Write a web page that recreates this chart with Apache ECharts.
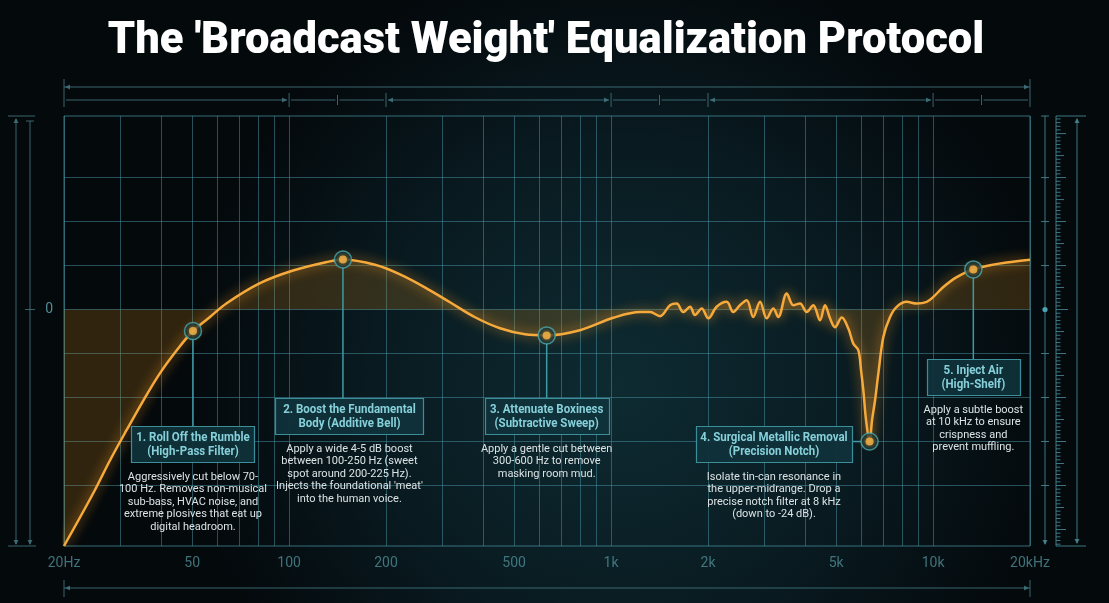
<!DOCTYPE html>
<html><head><meta charset="utf-8">
<script src="https://cdn.jsdelivr.net/npm/echarts@6/dist/echarts.min.js"></script>
<style>html,body{margin:0;padding:0;background:#060d11;}#c{width:1109px;height:603px;}</style>
</head><body><div id="c"></div>
<script>
// ---------------- DATA ----------------
const chartTitle = "The 'Broadcast Weight' Equalization Protocol";
const freqHz = [20,24.6,27.8,31.3,35.3,39.7,44.8,50.3,56.8,64,81.2,102.9,131,147,186,221,264,316,378,452,540,631,800,1016,1230,1321,1419,1524,1599,1676,1759,1822,1912,2004,2128,2286,2396,2514,2638,2764,2902,3044,3190,3306,3512,3682,3862,4050,4246,4454,4618,4786,4960,5204,5456,5654,5860,5974,6074,6192,6350,6464,6604,6762,7008,7352,7710,8282,8896,9556,10020,10762,11842,13336,15024,16930,20000];
const gainDb = [-43,-33.5,-27.4,-21.9,-16.5,-11.6,-7.4,-3.9,-1.35,1.15,4.8,7.1,8.65,9.1,8.1,6.4,4.05,1.33,-1.4,-3.4,-4.5,-4.7,-3.75,-1.5,-0.45,-0.45,-1.2,0.8,1.1,-0.45,0.5,-1.0,0.2,-1.6,0.5,1.4,-0.45,0.8,1.7,-1.35,1.4,-1.6,0.2,-1.35,2.9,0.8,1.1,-0.45,0.8,-1.95,0.8,-1.6,-3.2,-1.45,-3.45,-6.2,-7.4,-11.0,-14.7,-20.1,-24,-20.1,-16.5,-11.6,-5.0,-1.35,0.5,1.4,1.1,1.4,2.3,4.1,5.9,7.3,8.05,8.55,9.05];
const markerFreqs = [50.3,147,631,6350,13336];
const markerGains = [-3.9,9.1,-4.7,-24,7.3];
const tickFreqs = [20,50,100,200,500,1000,2000,5000,10000,20000];
const tickLabels = ['20Hz','50','100','200','500','1k','2k','5k','10k','20kHz'];
const gridFreqs = [20,30,40,50,60,70,80,90,100,200,300,400,500,600,700,800,900,1000,2000,3000,4000,5000,6000,7000,8000,9000,10000,20000];
const gridGains = [24,16,8,0,-8,-16,-24,-32];
const yLabelValues = [0];
const boxTitles = [
  '1. Roll Off the Rumble\n(High-Pass Filter)',
  '2. Boost the Fundamental\nBody (Additive Bell)',
  '3. Attenuate Boxiness\n(Subtractive Sweep)',
  '4. Surgical Metallic Removal\n(Precision Notch)',
  '5. Inject Air\n(High-Shelf)'
];
const boxBodies = [
  'Aggressively cut below 70-\n100 Hz. Removes non-musical\nsub-bass, HVAC noise, and\nextreme plosives that eat up\ndigital headroom.',
  "Apply a wide 4-5 dB boost\nbetween 100-250 Hz (sweet\nspot around 200-225 Hz).\nInjects the foundational 'meat'\ninto the human voice.",
  'Apply a gentle cut between\n300-600 Hz to remove\nmasking room mud.',
  'Isolate tin-can resonance in\nthe upper-midrange. Drop a\nprecise notch filter at 8 kHz\n(down to -24 dB).',
  'Apply a subtle boost\nat 10 kHz to ensure\ncrispness and\nprevent muffling.'
];

// ---------------- LAYOUT / STYLE ----------------
const Y_MIN = -43, Y_MAX = 35.2;
const boxAnchor = [[50.3,-21.2],[154,-16.1],[631,-16.1],[3206,-21.2],[13336,-9.0]]; // box top-centre in data space
const boxWidths = [123,148,124,156,93];
const BOX_H = 36;
const FONT = 'Roboto, "Noto Sans", sans-serif';

const chart = echarts.init(document.getElementById('c'));
const curve = freqHz.map((f,i)=>[f,gainDb[i]]);
const markers = markerFreqs.map((f,i)=>[f,markerGains[i]]);

const option = {
  animation:false,
  backgroundColor:{type:'radial',x:0.56,y:0.64,r:0.72,colorStops:[
    {offset:0,color:'#0e2b32'},{offset:0.55,color:'#091b21'},{offset:1,color:'#04090c'}]},
  title:{text:chartTitle,left:541,top:15,textAlign:'center',
    textStyle:{color:'#ffffff',fontSize:43.5,fontWeight:900,fontFamily:FONT}},
  grid:{left:64,right:79,top:116,bottom:57,show:true,borderColor:'rgba(80,160,175,0.65)',borderWidth:1,backgroundColor:'transparent'},
  xAxis:{type:'log',logBase:10,min:20,max:20000,axisLine:{show:false},axisTick:{show:false},axisLabel:{show:false},splitLine:{show:false}},
  yAxis:{type:'value',min:Y_MIN,max:Y_MAX,axisLine:{show:false},axisTick:{show:false},splitLine:{show:false},
    axisLabel:{customValues:yLabelValues,color:'#4f8c96',fontSize:14,margin:11,fontFamily:FONT}},
  series:[
    {type:'lines',coordinateSystem:'cartesian2d',silent:true,z:1,
      data:gridFreqs.map(f=>({coords:[[f,Y_MIN],[f,Y_MAX]]})),
      lineStyle:{color:'rgba(72,150,165,0.5)',width:1,opacity:1}},
    {type:'lines',coordinateSystem:'cartesian2d',silent:true,z:1,
      data:gridGains.map(g=>({coords:[[20,g],[20000,g]]})),
      lineStyle:{color:'rgba(72,150,165,0.5)',width:1,opacity:1}},
    {type:'line',data:curve,smooth:0.35,symbol:'none',z:5,silent:true,
      lineStyle:{color:'#f6aa3c',width:2.5,shadowBlur:12,shadowColor:'rgba(255,160,40,0.9)'},
      areaStyle:{color:'rgba(214,135,30,0.3)'}},
    {type:'scatter',data:tickFreqs.map(f=>[f,Y_MIN]),symbolSize:0,silent:true,clip:false,z:3,
      itemStyle:{color:'transparent'},
      label:{show:true,position:'bottom',distance:10,formatter:p=>tickLabels[p.dataIndex],
        color:'#4f8c96',fontSize:14,fontFamily:FONT}},
    {type:'scatter',data:markers,symbolSize:17,silent:true,z:20,
      itemStyle:{color:'#0c2c33',borderColor:'#42a9b5',borderWidth:1.5}},
    {type:'scatter',data:markers,symbolSize:8,silent:true,z:21,
      itemStyle:{color:'#fbb548',shadowBlur:6,shadowColor:'rgba(255,170,50,0.9)'}}
  ]
};
chart.setOption(option);

// ---------------- ANNOTATIONS & DECORATIONS ----------------
const P = (f,g)=>chart.convertToPixel({gridIndex:0},[f,g]);
const G = [];
const dim = 'rgba(70,122,132,0.8)';
const mid = 'rgba(72,140,152,0.85)';
function seg(x1,y1,x2,y2,c,w){G.push({type:'line',silent:true,z:8,shape:{x1,y1,x2,y2},style:{stroke:c||dim,lineWidth:w||1}});}
function arrow(x,y,dir,c){
  const L=5,H=2.5;let pts;
  if(dir==='r')pts=[[x,y],[x-L,y-H],[x-L,y+H]];
  if(dir==='l')pts=[[x,y],[x+L,y-H],[x+L,y+H]];
  if(dir==='u')pts=[[x,y],[x-H,y+L],[x+H,y+L]];
  if(dir==='d')pts=[[x,y],[x-H,y-L],[x+H,y-L]];
  G.push({type:'polygon',silent:true,z:8,shape:{points:pts},style:{fill:c||dim}});
}
const xL=P(20,0)[0], xR=P(20000,0)[0], yT=P(20,Y_MAX)[1], yB=P(20,Y_MIN)[1], y0=P(20,0)[1];

// top dimension rows
seg(xL,87,xR,87); arrow(xL+1,87,'l'); arrow(xR-1,87,'r');
seg(xL,79,xL,107); seg(xR,79,xR,107);
const rowF=[20,100,141.4,200,1000,1414,2000,10000,14142,20000];
const rowX=rowF.map(f=>P(f,0)[0]);
const arrowSegs=[0,3,6];
for(let i=0;i<rowX.length-1;i++){
  const a=rowX[i],b=rowX[i+1];
  seg(a+2,100,b-2,100);
  if(arrowSegs.includes(i)){ arrow(b-2,100,'r'); if(i>0) arrow(a+2,100,'l'); }
}
rowF.forEach((f,i)=>{ if(i===0||i===rowF.length-1) return; const x=rowX[i]; const minor=(i===2||i===5||i===8); seg(x,minor?95:93,x,minor?105:107); });
// bottom dimension
seg(xL,588,xR,588); arrow(xL+1,588,'l'); arrow(xR-1,588,'r');
seg(xL,580,xL,597); seg(xR,580,xR,597);
// left side
seg(8,yT,35,yT); seg(8,yB,36,yB);
seg(16,yT+3,16,yB-2); arrow(16,yT+2,'u'); arrow(16,yB-1,'d');
seg(30,yT+5,30,yB-2); seg(26,yT+5,34,yT+5); arrow(30,yB-1,'d');
seg(25,y0,35,y0);
// right side
seg(1045,yT,1045,yB-2,mid); seg(1041,yT,1049,yT,mid); arrow(1045,yB-1,'d',mid);
gridGains.forEach(g=>{ if(g!==0){ const y=P(20,g)[1]; seg(1041,y,1049,y,mid);} });
G.push({type:'circle',silent:true,z:8,shape:{cx:1045,cy:y0,r:2.6},style:{fill:'#4aa3b3'}});
seg(1056,yT,1056,yB,mid); seg(1056,yT,1086,yT,mid); seg(1056,yB,1086,yB,mid);
for(let k=-64;k<=52;k++){
  const g=k*8/12; if(g<Y_MIN||g>Y_MAX) continue;
  const y=P(20,g)[1];
  const len = k===0?12:(k%12===0?10:(k%6===0?8:4.5));
  seg(1056,y,1056+len,y,mid);
}
seg(1077,yT+3,1077,yB-3,mid); arrow(1077,yT+2,'u',mid); arrow(1077,yB-2,'d',mid);

// leaders, boxes, texts
boxTitles.forEach((t,i)=>{
  const [cx,top]=P(boxAnchor[i][0],boxAnchor[i][1]);
  const [mx,my]=P(markerFreqs[i],markerGains[i]);
  const W=boxWidths[i];
  if(i===3){ seg(cx+W/2,my,mx-8.5,my,'#3f9aa6',1.5); }
  else { seg(mx,my+8.5,mx,top,'#3f9aa6',1.5); }
  G.push({type:'rect',silent:true,z:10,shape:{x:Math.round(cx-W/2)+0.5,y:Math.round(top)+0.5,width:W,height:BOX_H},
    style:{fill:'rgba(16,50,58,0.95)',stroke:'#3a8f9a',lineWidth:1.2}});
  G.push({type:'text',silent:true,z:11,x:cx,y:top+BOX_H/2+0.5,scaleX:0.92,
    style:{text:t,textAlign:'center',textVerticalAlign:'middle',lineHeight:13.8,
      font:'bold 12.5px '+FONT,fill:'#86d0da'}});
  G.push({type:'text',silent:true,z:11,x:cx,y:top+BOX_H+8.5,
    style:{text:boxBodies[i],textAlign:'center',textVerticalAlign:'top',lineHeight:12.5,
      font:'11px '+FONT,fill:'#dbe3e5'}});
});
chart.setOption({graphic:{elements:G}});
</script></body></html>
